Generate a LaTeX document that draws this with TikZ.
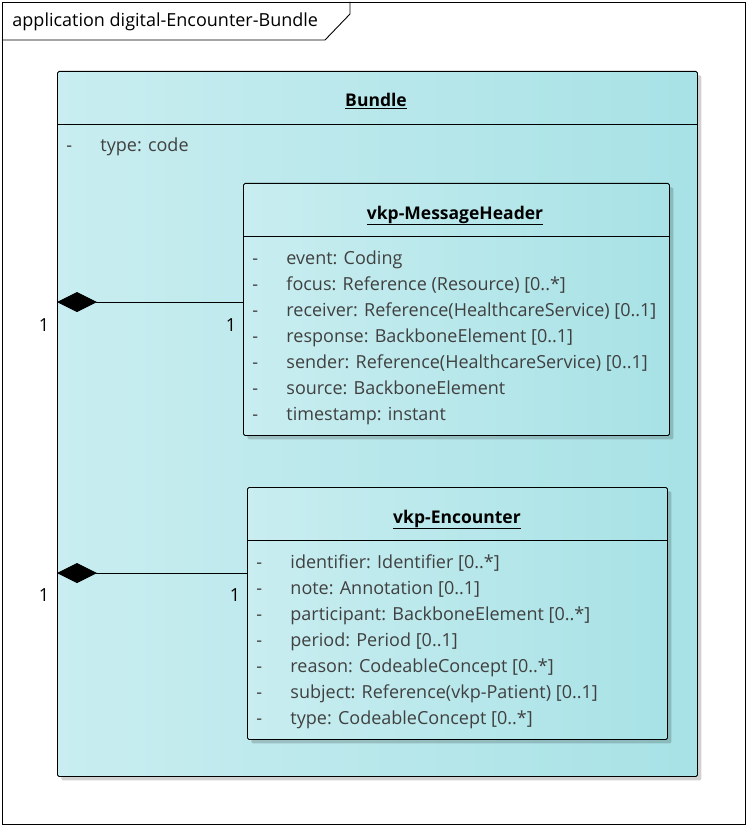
\documentclass[tikz,border=0pt]{standalone}
\usepackage{fontspec}
\setmainfont{Open Sans}
\usetikzlibrary{arrows.meta,positioning,shadows}

\definecolor{clsleft}{RGB}{201,237,240}
\definecolor{clsright}{RGB}{168,226,230}
\definecolor{attrgrey}{RGB}{64,64,64}

\begin{document}
\begin{tikzpicture}[
        x=1pt,
        y=-1pt,
        line width=0.9pt,
        class box/.style={
            draw,
            rounded corners=1.5pt,
            anchor=north west,
            inner sep=0pt,
            left color=clsleft,
            right color=clsright,
            drop shadow={shadow xshift=4pt, shadow yshift=-4pt, opacity=0.18, fill=black},
        },
        class title/.style={
            font=\fontsize{17.5}{20}\selectfont\bfseries,
            inner sep=0pt,
        },
        attr/.style={
            font=\fontsize{18}{22}\selectfont,
            text=attrgrey,
            anchor=base west,
            inner sep=0pt,
        },
        mult/.style={
            font=\fontsize{18}{22}\selectfont,
            inner sep=0pt,
        },
        compose/.style={
            {Diamond[length=40pt,width=20pt]}-,
            line width=0.9pt,
        }
    ]
    \useasboundingbox (0,0) rectangle (748,826);

    % frame
    \node[draw, anchor=north west, minimum width=743pt, minimum height=822pt, inner sep=0pt] (frame) at (2,2) {};
    \draw (2,40) -- (325,40) -- (350,14) -- (350,2);
    \node[font=\fontsize{18}{22}\selectfont, anchor=base west, inner sep=0pt] (frametitle) at (12,27) {application digital-Encounter-Bundle};

    % Bundle
    \node[class box, minimum width=640pt, minimum height=705pt] (bundle) at (57,71) {};
    \draw (57,124) -- (697,124);
    \node[class title, anchor=base] (bundletitle) at (376,107) {\underline{Bundle}};
    \node[attr] (bdash) at (66,152) {-};
    \node[attr] (btype) at (100,152) {type: code};

    % vkp-MessageHeader
    \node[class box, minimum width=426pt, minimum height=252pt] (header) at (243,183) {};
    \draw (243,236) -- (669,236);
    \node[class title, anchor=base] (headertitle) at (455,219) {\underline{vkp-MessageHeader}};
    \foreach \txt [count=\i] in {
        event: Coding,
        focus: Reference (Resource) [0..*],
        receiver: Reference(HealthcareService) [0..1],
        response: BackboneElement [0..1],
        sender: Reference(HealthcareService) [0..1],
        source: BackboneElement,
        timestamp: instant} {
        \node[attr] (hd\i) at (252,238+26*\i) {-};
        \node[attr] (ha\i) at (286,238+26*\i) {\txt};
    }

    % vkp-Encounter
    \node[class box, minimum width=420pt, minimum height=252pt] (encounter) at (247,487) {};
    \draw (247,540) -- (667,540);
    \node[class title, anchor=base] (encountertitle) at (457,523) {\underline{vkp-Encounter}};
    \foreach \txt [count=\i] in {
        identifier: Identifier [0..*],
        note: Annotation [0..1],
        participant: BackboneElement [0..*],
        period: Period [0..1],
        reason: CodeableConcept [0..*],
        subject: Reference(vkp-Patient) [0..1],
        type: CodeableConcept [0..*]} {
        \node[attr] (ed\i) at (256,542+26*\i) {-};
        \node[attr] (ea\i) at (290,542+26*\i) {\txt};
    }

    % compositions
    \coordinate (hjoin) at (bundle.west |- 0,302);
    \coordinate (ejoin) at (bundle.west |- 0,573);
    \draw[compose] (hjoin) -- (header.west |- hjoin);
    \draw[compose] (ejoin) -- (encounter.west |- ejoin);
    \node[mult] (hm1) at (44,325) {1};
    \node[mult] (hm2) at (231,325) {1};
    \node[mult] (em1) at (44,595) {1};
    \node[mult] (em2) at (235,595) {1};
\end{tikzpicture}
\end{document}
